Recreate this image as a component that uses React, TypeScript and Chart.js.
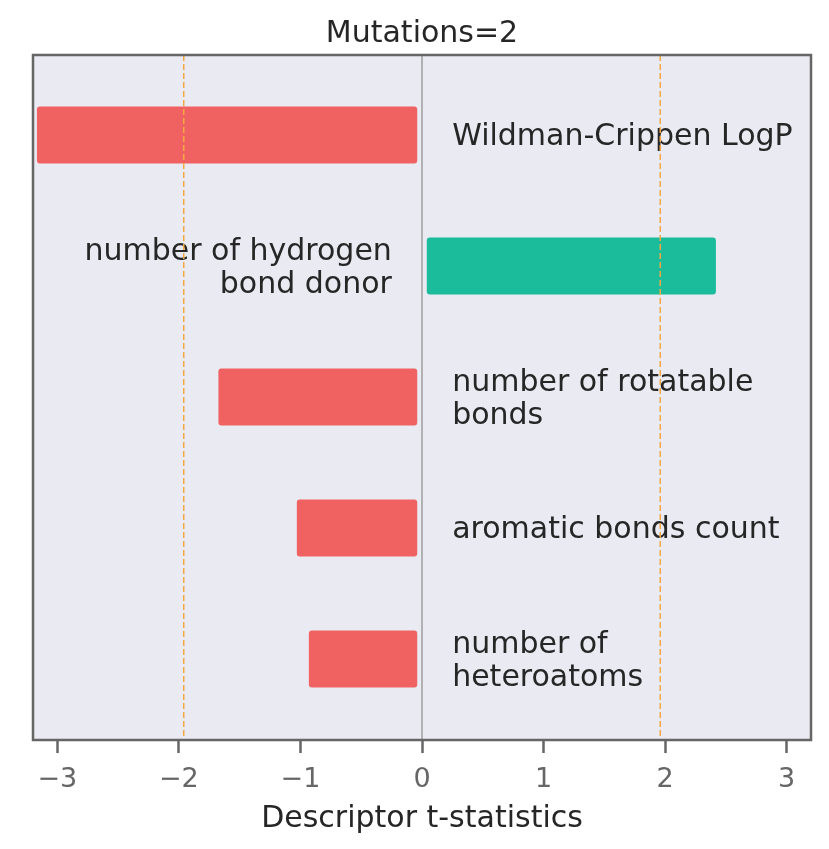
import React, { useEffect, useRef } from "react";
import { Chart, registerables } from "chart.js";

Chart.register(...registerables);

const descriptors = [
  ["Wildman-Crippen LogP"],
  ["number of hydrogen", "bond donor"],
  ["number of rotatable", "bonds"],
  ["aromatic bonds count"],
  ["number of", "heteroatoms"],
];
const tValues = [-3.165, 2.415, -1.672, -1.027, -0.928];
const xTicks = [-3, -2, -1, 0, 1, 2, 3];
const thresholds = [-1.96, 1.96];
const titleText = "Mutations=2";
const xLabel = "Descriptor t-statistics";

const RED = "#F06262";
const GREEN = "#1ABC9C";
const BAR_GAP = 0.042;
const LABEL_OFFSET = 0.248;
const FONT = "'DejaVu Sans', sans-serif";

export default function App() {
  const ref = useRef<HTMLCanvasElement | null>(null);

  useEffect(() => {
    const canvas = ref.current;
    if (!canvas) return;

    const decorPlugin = {
      id: "decor",
      beforeDraw(chart: any) {
        const { ctx, chartArea } = chart;
        ctx.save();
        ctx.fillStyle = "#EAEAF2";
        ctx.fillRect(chartArea.left, chartArea.top, chartArea.right - chartArea.left, chartArea.bottom - chartArea.top);
        ctx.restore();
      },
      afterDatasetsDraw(chart: any) {
        const { ctx, chartArea } = chart;
        const xs = chart.scales.x;
        const ys = chart.scales.y;
        ctx.save();
        // labels
        ctx.fillStyle = "#262626";
        ctx.font = `30px ${FONT}`;
        ctx.textBaseline = "alphabetic";
        const lineGap = 33;
        descriptors.forEach((lines, i) => {
          const v = tValues[i];
          const cy = ys.getPixelForValue(i);
          const x = xs.getPixelForValue(v < 0 ? LABEL_OFFSET : -LABEL_OFFSET);
          ctx.textAlign = v < 0 ? "left" : "right";
          const first = cy + 10 - ((lines.length - 1) * lineGap) / 2;
          lines.forEach((ln, k) => ctx.fillText(ln, x, first + k * lineGap));
        });
        // zero line
        ctx.beginPath();
        ctx.strokeStyle = "#8a8a8a";
        ctx.lineWidth = 1.2;
        const zx = xs.getPixelForValue(0);
        ctx.moveTo(zx, chartArea.top);
        ctx.lineTo(zx, chartArea.bottom);
        ctx.stroke();
        // threshold lines
        ctx.strokeStyle = "#F4A844";
        ctx.lineWidth = 1.5;
        ctx.setLineDash([6, 3]);
        thresholds.forEach((t) => {
          const px = xs.getPixelForValue(t);
          ctx.beginPath();
          ctx.moveTo(px, chartArea.top);
          ctx.lineTo(px, chartArea.bottom);
          ctx.stroke();
        });
        ctx.setLineDash([]);
        // border
        ctx.strokeStyle = "#666666";
        ctx.lineWidth = 2.5;
        ctx.strokeRect(chartArea.left, chartArea.top, chartArea.right - chartArea.left, chartArea.bottom - chartArea.top);
        // title
        ctx.fillStyle = "#262626";
        ctx.font = `30px ${FONT}`;
        ctx.textAlign = "center";
        ctx.textBaseline = "alphabetic";
        ctx.fillText(titleText, (chartArea.left + chartArea.right) / 2, 42);
        ctx.restore();
      },
    };

    const chart = new Chart(canvas, {
      type: "bar",
      data: {
        datasets: [
          {
            data: tValues.map((v, i) => ({ y: i, x: [v < 0 ? -BAR_GAP : BAR_GAP, v] })) as any,
            backgroundColor: tValues.map((v) => (v < 0 ? RED : GREEN)),
            borderWidth: 0,
            borderRadius: 3,
            borderSkipped: false,
            barThickness: 56.4,
          },
        ],
      },
      options: {
        indexAxis: "y",
        responsive: false,
        animation: false,
        events: [],
        layout: { padding: { left: 33, right: 18, top: 55, bottom: 0 } },
        plugins: { legend: { display: false }, tooltip: { enabled: false }, title: { display: false } },
        scales: {
          x: {
            type: "linear",
            min: -3.2,
            max: 3.2,
            afterFit(scale: any) {
              scale.height = 109;
            },
            afterBuildTicks(scale: any) {
              scale.ticks = xTicks.map((v) => ({ value: v }));
            },
            ticks: {
              includeBounds: false,
              color: "#666666",
              font: { family: FONT, size: 27 },
              padding: 11,
              maxRotation: 0,
              callback: (v: any) => String(v).replace("-", "\u2212"),
            },
            grid: {
              drawOnChartArea: false,
              drawTicks: true,
              tickLength: 13,
              tickWidth: 2.5,
              tickColor: "#666666",
            },
            border: { display: false },
            title: {
              display: true,
              text: xLabel,
              color: "#262626",
              font: { family: FONT, size: 30 },
              padding: { top: 0, bottom: 12 },
            },
          },
          y: {
            type: "linear",
            display: false,
            reverse: true,
            offset: false,
            min: -0.611,
            max: 4.618,
          },
        },
      } as any,
      plugins: [decorPlugin],
    });
    return () => chart.destroy();
  }, []);

  return (
    <div style={{ position: "absolute", left: 0, top: 0, width: 829, height: 849, background: "#fff" }}>
      <canvas ref={ref} width={829} height={849} style={{ display: "block" }} />
    </div>
  );
}
